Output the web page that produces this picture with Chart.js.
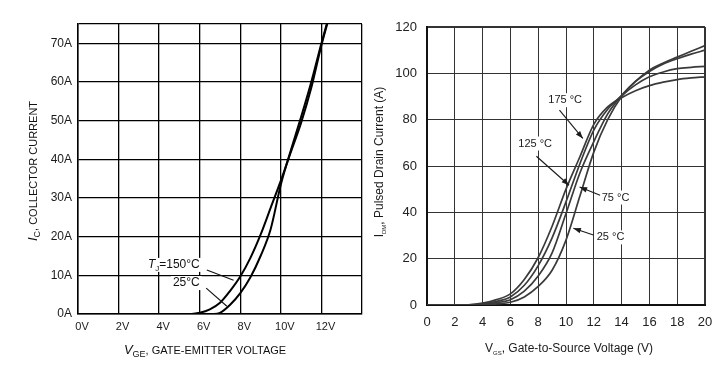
<!DOCTYPE html>
<html>
<head>
<meta charset="utf-8">
<script src="https://cdn.jsdelivr.net/npm/chart.js@4.4.1/dist/chart.umd.min.js"></script>
<style>
  body { margin: 0; background: #fff; }
  #wrap { position: relative; width: 723px; height: 365px; }
  canvas { position: absolute; top: 0; }
  #igbt { left: 0; }
  #mosfet { left: 370px; }
</style>
</head>
<body>
<div id="wrap">
  <canvas id="igbt" width="370" height="365"></canvas>
  <canvas id="mosfet" width="353" height="365"></canvas>
</div>
<script>
// left chart: IGBT transfer characteristic
const vgeTicks = [0, 2, 4, 6, 8, 10, 12];
const icTicks = [0, 10, 20, 30, 40, 50, 60, 70];
const vge150 = [0, 5.6, 6, 6.5, 7, 7.5, 8, 8.5, 9, 9.5, 10, 10.5, 11, 11.5, 12, 12.5];
const ic150 = [0, 0, 0.3, 1.2, 2.9, 6, 9.7, 14.5, 20.5, 27.5, 34.5, 42, 49.5, 58.5, 69.5, 79];
const vge25 = [0, 6.7, 7, 7.5, 8, 8.5, 9, 9.5, 10, 10.5, 11, 11.5, 12, 12.5];
const ic25 = [0, 0, 0.3, 2.4, 5.4, 9.5, 15, 22, 33.5, 42.5, 51, 60, 70, 79.5];

// right chart: MOSFET transfer characteristic
const vgsTicks = [0, 2, 4, 6, 8, 10, 12, 14, 16, 18, 20];
const idTicks = [0, 20, 40, 60, 80, 100, 120];
const vgs = [0, 2, 3, 4, 5, 6, 7, 8, 9, 10, 11, 12, 13, 14, 15, 16, 17, 18, 19, 20];
const id175 = [0, 0, 0.1, 0.8, 2.3, 4.8, 11, 20.5, 34, 50, 64, 78, 85.5, 89.5, 92.5, 94.7, 96.2, 97.3, 98, 98.5];
const id125 = [0, 0, 0.05, 0.5, 1.6, 3.5, 8.5, 17, 29, 44.5, 61, 75.5, 84.5, 90.3, 95, 98.5, 100.6, 102, 102.6, 103];
const id75 = [0, 0, 0, 0.3, 1, 2.3, 6, 12.5, 22.5, 39.5, 57, 70.5, 82.5, 90.5, 96.5, 100.8, 104, 106.3, 108.3, 110];
const id25 = [0, 0, 0, 0.1, 0.5, 1.2, 3.5, 8, 15, 28, 47, 66, 80, 90, 96.5, 101.4, 104.5, 107, 109.5, 112];

const FONT = 'Arial, "Liberation Sans", sans-serif';

function toPoints(xs, ys) {
  return xs.map((x, i) => ({ x: x, y: ys[i] }));
}

function runsWidth(ctx, runs) {
  let w = 0;
  runs.forEach(r => { ctx.font = r.f; w += ctx.measureText(r.t).width; });
  return w;
}

function drawRuns(ctx, runs, x, y) {
  runs.forEach(r => {
    ctx.font = r.f;
    ctx.fillText(r.t, x, y + (r.dy || 0));
    x += ctx.measureText(r.t).width;
  });
}

// titles, labels and leader lines that chart.js has no option for
const extras = {
  id: 'extras',
  afterDraw(chart, args, opts) {
    const ctx = chart.ctx;
    const px = v => chart.scales.x.getPixelForValue(v);
    const py = v => chart.scales.y.getPixelForValue(v);
    ctx.save();
    ctx.fillStyle = opts.color;
    ctx.textBaseline = 'middle';
    (opts.labels || []).forEach(l => {
      const w = runsWidth(ctx, l.runs);
      let x0 = px(l.x);
      if (l.align === 'center') x0 -= w / 2;
      if (l.align === 'right') x0 -= w;
      const y0 = py(l.y);
      ctx.fillStyle = '#fff';
      ctx.fillRect(x0 - 2, y0 - 7, w + 4, 14);
      ctx.fillStyle = opts.color;
      drawRuns(ctx, l.runs, x0, y0);
    });
    ctx.strokeStyle = opts.color;
    ctx.lineWidth = 1.1;
    (opts.leaders || []).forEach(a => {
      const x1 = px(a.from[0]), y1 = py(a.from[1]);
      const x2 = px(a.to[0]), y2 = py(a.to[1]);
      ctx.beginPath();
      ctx.moveTo(x1, y1);
      ctx.lineTo(x2, y2);
      ctx.stroke();
      if (a.arrow) {
        const ang = Math.atan2(y2 - y1, x2 - x1);
        ctx.beginPath();
        ctx.moveTo(x2, y2);
        ctx.lineTo(x2 - 8 * Math.cos(ang - 0.35), y2 - 8 * Math.sin(ang - 0.35));
        ctx.lineTo(x2 - 8 * Math.cos(ang + 0.35), y2 - 8 * Math.sin(ang + 0.35));
        ctx.closePath();
        ctx.fill();
      }
    });
    ctx.textBaseline = 'alphabetic';
    (opts.titles || []).forEach(t => {
      const w = runsWidth(ctx, t.runs);
      ctx.save();
      ctx.translate(t.x, t.y);
      if (t.rotate) ctx.rotate(-Math.PI / 2);
      drawRuns(ctx, t.runs, -w / 2, 0);
      ctx.restore();
    });
    ctx.restore();
  }
};

new Chart(document.getElementById('igbt'), {
  type: 'line',
  data: {
    datasets: [
      { label: 'TJ=150°C', data: toPoints(vge150, ic150) },
      { label: '25°C', data: toPoints(vge25, ic25) }
    ]
  },
  options: {
    responsive: false,
    animation: false,
    events: [],
    layout: { padding: { top: 24, right: 8, left: 0, bottom: 0 } },
    elements: {
      point: { radius: 0 },
      line: { borderColor: '#000', borderWidth: 2, cubicInterpolationMode: 'monotone' }
    },
    plugins: {
      legend: { display: false },
      tooltip: { enabled: false },
      extras: {
        color: '#111',
        labels: [
          { x: 6.0, y: 12.7, align: 'right', runs: [
            { t: 'T', f: 'italic 12px ' + FONT },
            { t: 'J', f: '8px ' + FONT, dy: 4 },
            { t: '=150°C', f: '12px ' + FONT }] },
          { x: 6.0, y: 8.0, align: 'right', runs: [{ t: '25°C', f: '12px ' + FONT }] }
        ],
        leaders: [
          { from: [6.35, 11.4], to: [7.67, 8.7] },
          { from: [6.32, 6.7], to: [7.34, 2.0] }
        ],
        titles: [
          { x: 205, y: 354, runs: [
            { t: 'V', f: 'italic 13px ' + FONT },
            { t: 'GE', f: '9px ' + FONT, dy: 3 },
            { t: ', GATE-EMITTER VOLTAGE', f: '11px ' + FONT }] },
          { x: 37, y: 171, rotate: true, runs: [
            { t: 'I', f: 'italic 13px ' + FONT },
            { t: 'C', f: '9px ' + FONT, dy: 3 },
            { t: ', COLLECTOR CURRENT', f: '11px ' + FONT }] }
        ]
      }
    },
    scales: {
      x: {
        type: 'linear',
        min: 0,
        max: 14,
        afterBuildTicks: s => { s.ticks = vgeTicks.concat([14]).map(v => ({ value: v })); },
        afterFit: s => { s.height = 51; },
        ticks: {
          callback: v => (v > 12 ? '' : v + 'V'),
          font: { family: FONT, size: 11 },
          color: '#1a1a1a',
          padding: 6,
          labelOffset: 4,
          maxRotation: 0
        },
        grid: { color: '#000', lineWidth: 1.3, drawTicks: false },
        border: { color: '#000', width: 1.5 }
      },
      y: {
        min: 0,
        max: 75,
        afterBuildTicks: s => { s.ticks = icTicks.concat([75]).map(v => ({ value: v })); },
        afterFit: s => { s.width = 78; },
        ticks: {
          callback: v => (v > 70 ? '' : v + 'A'),
          font: { family: FONT, size: 12 },
          color: '#1a1a1a',
          padding: 6
        },
        grid: { color: '#000', lineWidth: 1.3, drawTicks: false },
        border: { color: '#000', width: 1.5 }
      }
    }
  },
  plugins: [extras]
});

const edgeWidth = max => c => (c.tick && (c.tick.value === 0 || c.tick.value === max) ? 2 : 1);

new Chart(document.getElementById('mosfet'), {
  type: 'line',
  data: {
    datasets: [
      { label: '175 °C', data: toPoints(vgs, id175) },
      { label: '125 °C', data: toPoints(vgs, id125) },
      { label: '75 °C', data: toPoints(vgs, id75) },
      { label: '25 °C', data: toPoints(vgs, id25) }
    ]
  },
  options: {
    responsive: false,
    animation: false,
    events: [],
    layout: { padding: { top: 27, right: 18, left: 0, bottom: 0 } },
    elements: {
      point: { radius: 0 },
      line: { borderColor: '#3a3a3a', borderWidth: 1.7, cubicInterpolationMode: 'monotone' }
    },
    plugins: {
      legend: { display: false },
      tooltip: { enabled: false },
      extras: {
        color: '#1a1a1a',
        labels: [
          { x: 9.94, y: 88.4, align: 'center', runs: [{ t: '175 °C', f: '11px ' + FONT }] },
          { x: 7.78, y: 69.7, align: 'center', runs: [{ t: '125 °C', f: '11px ' + FONT }] },
          { x: 12.57, y: 46.4, align: 'left', runs: [{ t: '75 °C', f: '11px ' + FONT }] },
          { x: 12.21, y: 29.2, align: 'left', runs: [{ t: '25 °C', f: '11px ' + FONT }] }
        ],
        leaders: [
          { from: [9.53, 84.1], to: [11.21, 71.9], arrow: true },
          { from: [7.87, 64.2], to: [10.22, 51.7], arrow: true },
          { from: [12.45, 47.4], to: [10.98, 50.9], arrow: true },
          { from: [11.97, 30.2], to: [10.53, 33.1], arrow: true }
        ],
        titles: [
          { x: 199, y: 352, runs: [
            { t: 'V', f: '12px ' + FONT },
            { t: 'GS', f: '6px ' + FONT, dy: 3 },
            { t: ', Gate-to-Source Voltage (V)', f: '12px ' + FONT }] },
          { x: 13, y: 162, rotate: true, runs: [
            { t: 'I', f: '12px ' + FONT },
            { t: 'DM', f: '6px ' + FONT, dy: 3 },
            { t: ', Pulsed Drain Current (A)', f: '12px ' + FONT }] }
        ]
      }
    },
    scales: {
      x: {
        type: 'linear',
        min: 0,
        max: 20,
        afterBuildTicks: s => { s.ticks = vgsTicks.map(v => ({ value: v })); },
        afterFit: s => { s.height = 60; },
        ticks: {
          font: { family: FONT, size: 13 },
          color: '#222',
          padding: 10,
          maxRotation: 0
        },
        grid: { color: '#333', lineWidth: edgeWidth(20), drawTicks: false },
        border: { color: '#111', width: 2 }
      },
      y: {
        min: 0,
        max: 120,
        afterBuildTicks: s => { s.ticks = idTicks.map(v => ({ value: v })); },
        afterFit: s => { s.width = 57; },
        ticks: {
          font: { family: FONT, size: 13 },
          color: '#222',
          padding: 10
        },
        grid: { color: '#333', lineWidth: edgeWidth(120), drawTicks: false },
        border: { color: '#111', width: 2 }
      }
    }
  },
  plugins: [extras]
});
</script>
</body>
</html>
